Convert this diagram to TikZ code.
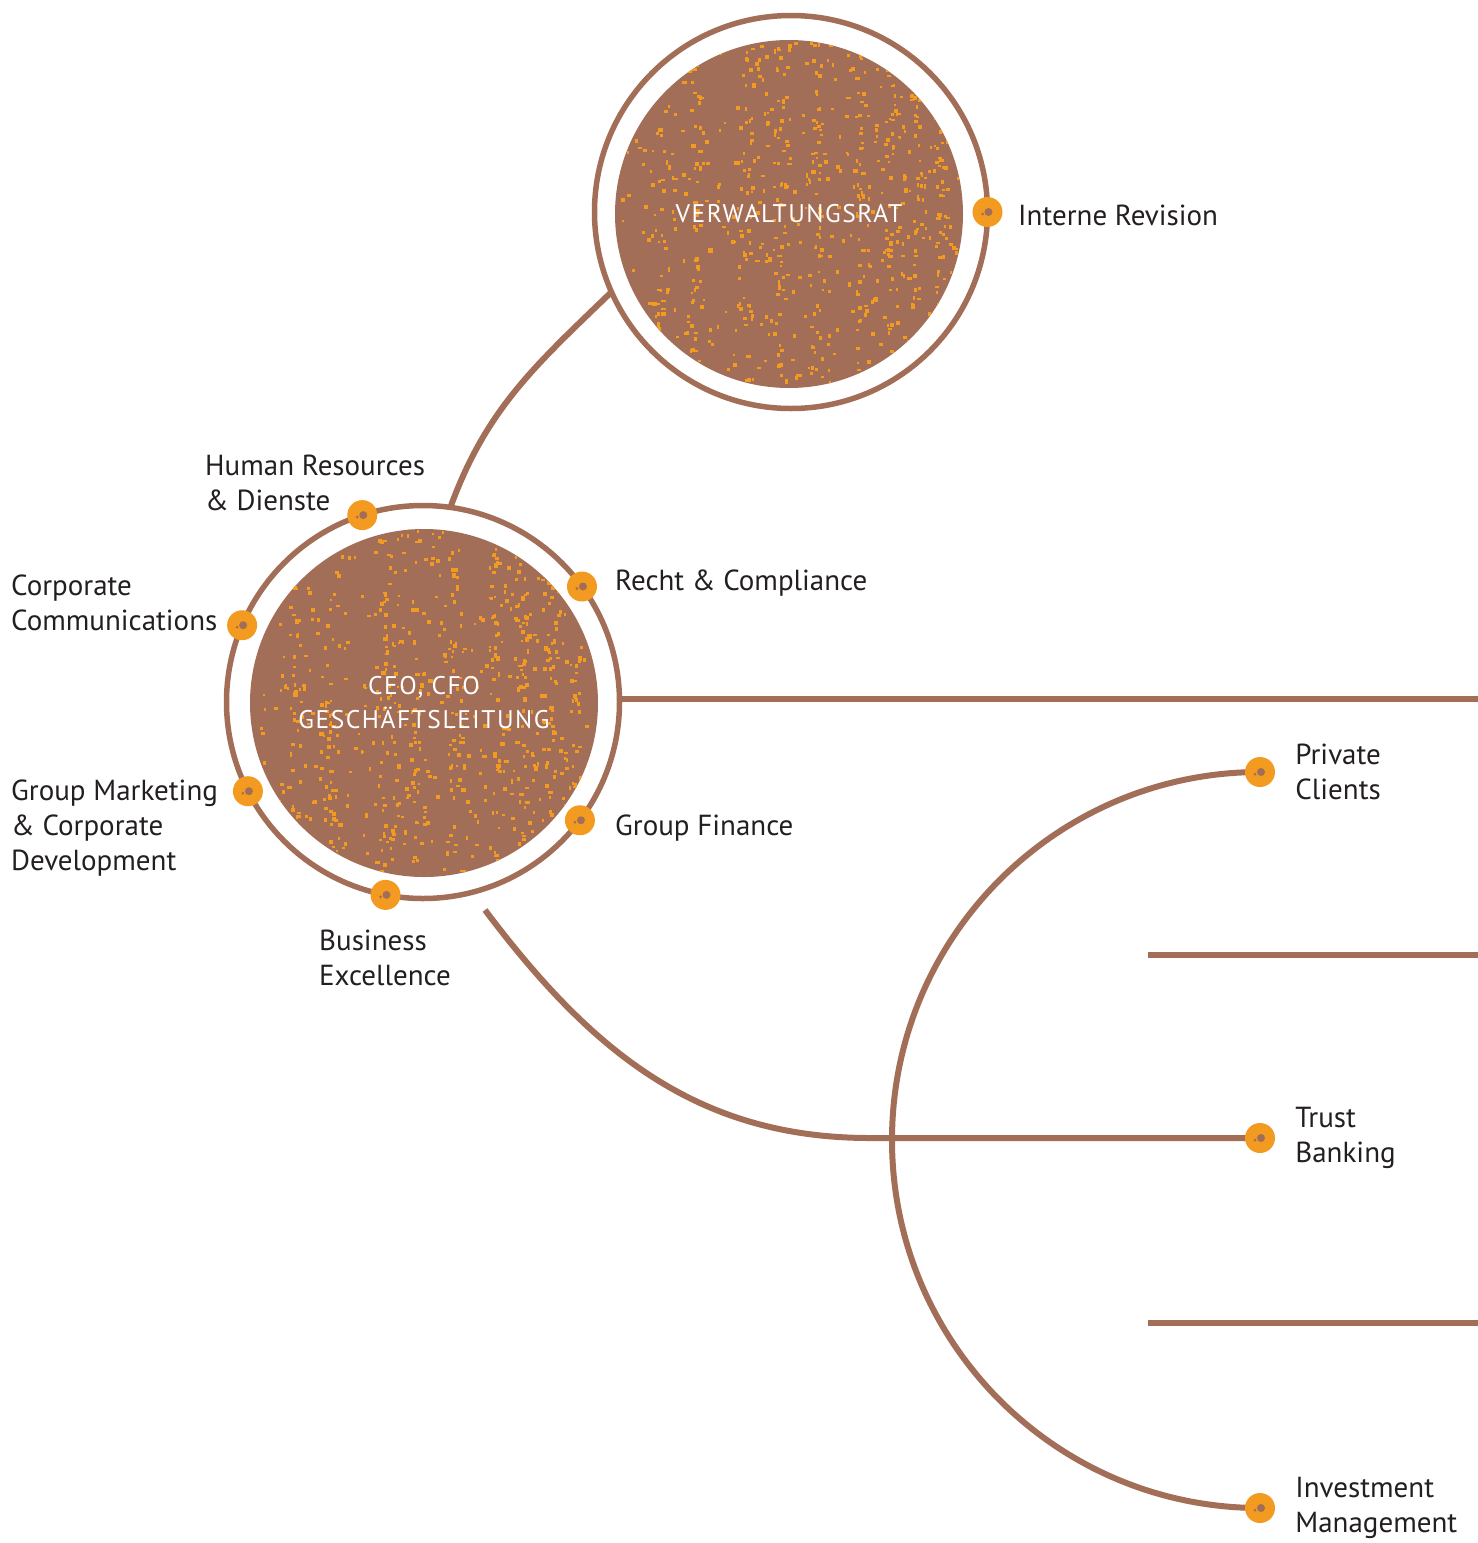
\documentclass[tikz,border=0pt]{standalone}
\usepackage{fontspec}
\setmainfont{PT Sans}
\newfontfamily\capsfont[LetterSpace=6]{PT Sans}
\usepackage{tikz}
\usetikzlibrary{positioning, calc, backgrounds}
\definecolor{clay}{HTML}{A36E58}
\definecolor{amber}{HTML}{F39A21}
\definecolor{ink}{HTML}{231F20}

\newcommand{\grain}{%
  \foreach \k in {1,...,220}{
    \fill[amber] ($(path picture bounding box.center)+(rand*174,rand*174)$) rectangle ++(2+2*rnd,2+2*rnd);
  }
  \foreach \sx in {-130,-95,-40,-10,30,70,100,125,150}{
    \foreach \k in {1,...,65}{
      \fill[amber] ($(path picture bounding box.center)+(\sx+rand*rnd*22,rand*174)$) rectangle ++(2+2.5*rnd,2+2.5*rnd);
    }
  }}

\tikzset{
  ring/.style={circle, draw=clay, line width=5.5pt, minimum size=393pt, inner sep=0pt, outer sep=0pt},
  core/.style={circle, fill=clay, minimum size=348pt, inner sep=0pt, text=white, align=center,
    font=\capsfont\fontsize{25.5}{34}\selectfont, path picture={\grain}},
  link/.style={draw=clay, line width=6pt},
  dot/.style={circle, fill=amber, minimum size=30pt, inner sep=0pt,
    path picture={\fill[clay] ($(path picture bounding box.center)+(1,0)$) circle (4pt);
      \fill[clay] ($(path picture bounding box.center)+(-5,-2)$) circle (1.5pt);}},
  unit/.style={font=\fontsize{29}{35}\selectfont, text=ink, align=left, anchor=west, inner sep=0pt},
}

\begin{document}
\begin{tikzpicture}[x=1pt, y=1pt]
  \pgfmathsetseed{12}
  \useasboundingbox (0,0) rectangle (1478,-1543);

  \node[ring] (boardring) at (791,-212) {};
  \node[core] (board) at (789,-214) {VERWALTUNGSRAT};
  \node[ring] (execring) at (423,-702) {};
  \node[core] (exec) at (424,-703) {CEO, CFO\\GESCHÄFTSLEITUNG};

  \coordinate (edge) at (1478,0);
  \coordinate (execstub) at (485,-910);
  \coordinate (bend) at (870,-1138);
  \coordinate (gapA) at (1148,-955);
  \coordinate (gapB) at (1148,-1323);

  \node[dot] (audit) at (boardring.0) {};
  \node[dot] (hr) at (execring.108) {};
  \node[dot] (legal) at (execring.36) {};
  \node[dot] (comms) at (execring.157) {};
  \node[dot] (marketing) at (execring.207) {};
  \node[dot] (excellence) at (execring.259) {};
  \node[dot] (finance) at (execring.323) {};
  \node[dot] (private) at (1260,-772) {};
  \node[dot] (trust) at (1260,-1138) {};
  \node[dot] (invest) at (1260,-1508) {};

  \node[unit] at (1018,-215) {Interne Revision};
  \node[unit] at (205,-483) {Human Resources\\\& Dienste};
  \node[unit] at (615,-583) {Recht \& Compliance};
  \node[unit] at (11,-603) {Corporate\\Communications};
  \node[unit] at (11,-828) {Group Marketing\\\& Corporate\\Development};
  \node[unit] at (615,-828) {Group Finance};
  \node[unit] at (319,-958) {Business\\Excellence};
  \node[unit, right=20pt of private] {Private\\Clients};
  \node[unit, right=20pt of trust] {Trust\\Banking};
  \node[unit, right=20pt of invest] {Investment\\Management};

  \begin{scope}[on background layer]
    \draw[link] (boardring.204) to[out=224, in=70] (execring.82);
    \draw[link] (execring.1.5) -- (execring.1.5 -| edge);
    \draw[link] (execstub) to[out=-53, in=180] (bend) -- (trust.center);
    \draw[link] (private.center) arc[start angle=90, end angle=270, radius=368];
    \draw[link] (gapA) -- (gapA -| edge);
    \draw[link] (gapB) -- (gapB -| edge);
  \end{scope}
\end{tikzpicture}
\end{document}
